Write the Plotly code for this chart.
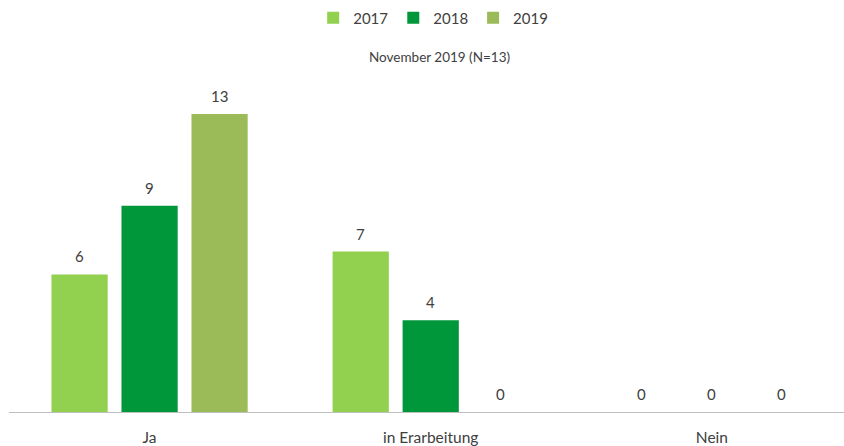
import plotly.graph_objects as go

categories = ["Ja", "in Erarbeitung", "Nein"]
series_names = ["2017", "2018", "2019"]
values_2017 = [6, 7, 0]
values_2018 = [9, 4, 0]
values_2019 = [13, 0, 0]
colors = ["#92D050", "#00963A", "#9BBB59"]
subtitle = "November 2019 (N=13)"

all_values = [values_2017, values_2018, values_2019]
FONT = "Lato, Open Sans, sans-serif"

fig = go.Figure()
for name, vals, col in zip(series_names, all_values, colors):
    fig.add_trace(go.Bar(name=name, x=categories, y=vals, marker_color=col,
                         marker_line_width=0))

# value labels
slot_px = 70
for i, vals in enumerate(all_values):
    for cat, v in zip(categories, vals):
        fig.add_annotation(x=cat, y=v, text=str(v), showarrow=False,
                           xshift=(i - 1) * slot_px, yshift=7, yanchor="bottom",
                           font=dict(size=15, color="#404040", family=FONT))

plot_top, plot_bottom = 91, 415
fig.add_annotation(xref="paper", yref="paper", x=0.516,
                   y=(plot_bottom - 57) / (plot_bottom - plot_top),
                   text=subtitle, showarrow=False, yanchor="middle",
                   font=dict(size=13.5, color="#404040", family=FONT))

fig.update_layout(
    width=844, height=446,
    margin=dict(l=9, r=0, t=plot_top, b=446 - plot_bottom),
    paper_bgcolor="white", plot_bgcolor="white",
    barmode="group", bargap=0.253, bargroupgap=0.197,
    font=dict(family=FONT, color="#404040"),
    showlegend=True,
    legend=dict(orientation="h", xref="paper", x=0.508, xanchor="center",
                yref="container", y=1 - 18 / 446, yanchor="middle",
                font=dict(size=15, color="#404040", family=FONT),
                itemwidth=30, traceorder="normal"),
    xaxis=dict(range=[-0.5, 2.47], showline=True, linecolor="#BFBFBF", linewidth=1,
               ticks="", showgrid=False, tickfont=dict(size=15.5, color="#404040"),
               ticklabelstandoff=11),
    yaxis=dict(range=[0, 14], visible=False, showgrid=False, zeroline=False),
)

fig.write_html("out.html")
